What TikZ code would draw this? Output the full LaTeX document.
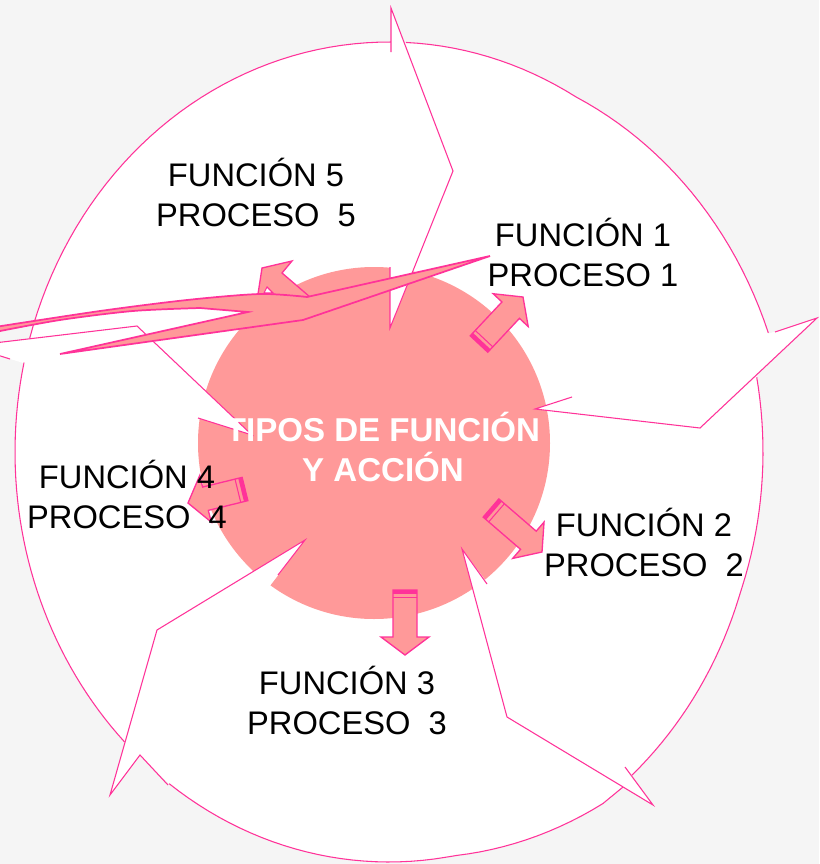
\documentclass[tikz,border=0pt]{standalone}
\usepackage{fontspec}
\setmainfont{Liberation Sans}
\usepackage{tikz}
\usetikzlibrary{calc}
\definecolor{rosado}{RGB}{255, 153, 153}
\definecolor{fucsia}{RGB}{255, 51, 153}
\definecolor{fondo}{RGB}{245, 245, 245}
\tikzset{
    anillo/.style={draw=fucsia, line width=0.8pt},
    punta/.style={fill=white, draw=none},
    borde/.style={draw=fucsia, line width=0.8pt, line join=miter},
    flecha/.style={fill=rosado, draw=fucsia, line width=1pt, line join=miter},
    espiga/.style={fill=rosado, draw=fucsia, line width=1.3pt, line join=miter},
    etiqueta/.style={align=center, text=black, inner sep=0pt, font=\fontsize{24.5}{30}\selectfont},
    titulo/.style={align=center, text=white, inner sep=0pt, font=\bfseries\fontsize{24.8}{30}\selectfont},
    tramo/.style={samples=40, variable=\t},
}
% flecha de bloque con rayas en la cola: #1 cola, #2 punta
\newcommand{\bloque}[2]{%
    \coordinate (cuello) at ($(#2)!13.5pt!(#1)$);
    \coordinate (raya) at ($(#1)!3pt!(#2)$);
    \coordinate (raya2) at ($(#1)!5.5pt!(#2)$);
    \filldraw[flecha] ($(#1)!9pt!90:(#2)$) -- ($(cuello)!9pt!-90:(#1)$) -- ($(cuello)!18pt!-90:(#1)$) -- (#2)
        -- ($(cuello)!18pt!90:(#1)$) -- ($(cuello)!9pt!90:(#1)$) -- ($(#1)!9pt!-90:(#2)$) -- cycle;
    \fill[fucsia] ($(#1)!9pt!90:(#2)$) -- ($(#1)!9pt!-90:(#2)$) -- ($(raya)!9pt!-90:(#2)$) -- ($(raya)!9pt!90:(#2)$) -- cycle;
    \draw[fucsia, line width=0.8pt] ($(raya2)!9pt!90:(#2)$) -- ($(raya2)!9pt!-90:(#2)$);
}

\begin{document}
\begin{tikzpicture}[x=0.75pt, y=-0.75pt]
    \useasboundingbox (0,0) rectangle (819,864);
    \clip (0,0) rectangle (819,864);
    \fill[fondo] (0,0) rectangle (819,864);

    % anillo blanco y disco central
    \fill[white] plot[tramo, domain=87.4:16] ({389+374*(1+0.00125*max(0,60-\t))*cos(\t)}, {452-410*(1+0.00125*max(0,60-\t))*sin(\t)})
        -- plot[tramo, domain=10.5:-50.5] ({389+374*(1+0.0007*max(0,-20-\t))*cos(\t)}, {452-410*(1+0.0007*max(0,-20-\t))*sin(\t)})
        -- (623,787)
        -- plot[tramo, domain=-56.3:-126] ({389+374*(1+0.0013*max(0,\t+80))*cos(\t)}, {452-410*(1+0.0013*max(0,\t+80))*sin(\t)})
        -- plot[tramo, domain=-135:-192.6] ({389+374*cos(\t)}, {452-410*sin(\t)})
        -- plot[tramo, domain=163.9:89.7] ({389+374*cos(\t)}, {452-410*sin(\t)}) -- cycle;
    \fill[rosado] (374,443) circle[radius=132pt];

    % puntas del ciclo
    \fill[punta] (391,8) -- (453,171) -- (390,328) -- cycle;
    \fill[punta] (817,318) -- (700,428) -- (535,409) -- cycle;
    \fill[punta] (462,549) -- (507,717) -- (653,805) -- cycle;
    \fill[punta] (305,540) -- (157,630) -- (110,795) -- cycle;
    \fill[punta] (252,435) -- (137,326) -- (-31,346) -- cycle;

    \draw[anillo] plot[tramo, domain=87.4:16] ({389+374*(1+0.00125*max(0,60-\t))*cos(\t)}, {452-410*(1+0.00125*max(0,60-\t))*sin(\t)});
    \draw[anillo] plot[tramo, domain=10.5:-50.5] ({389+374*(1+0.0007*max(0,-20-\t))*cos(\t)}, {452-410*(1+0.0007*max(0,-20-\t))*sin(\t)});
    \draw[anillo] (623,787) -- plot[tramo, domain=-56.3:-126] ({389+374*(1+0.0013*max(0,\t+80))*cos(\t)}, {452-410*(1+0.0013*max(0,\t+80))*sin(\t)});
    \draw[anillo] plot[tramo, domain=-135:-192.6] ({389+374*cos(\t)}, {452-410*sin(\t)});
    \draw[anillo] plot[tramo, domain=163.9:89.7] ({389+374*cos(\t)}, {452-410*sin(\t)});

    \draw[borde] (391,52) -- (391,8) -- (453,171) -- (390,328) -- (390,267);
    \draw[borde] (775,332) -- (817,318) -- (700,428) -- (535,409) -- (572,397);
    \draw[borde] (487,584) -- (462,549) -- (507,717) -- (653,805) -- (625,767);
    \draw[borde] (278,575) -- (305,540) -- (157,630) -- (110,795) -- (140,755) -- (168,785);
    \draw[borde] (198,418) -- (252,435) -- (137,326) -- (-31,346) -- (10,359);

    % flechas de bloque
    \coordinate (t1) at (479,344); \coordinate (h1) at (523,297);
    \coordinate (t2) at (491,508); \coordinate (h2) at (542,552);
    \coordinate (t3) at (405,590); \coordinate (h3) at (405,655);
    \coordinate (t4) at (245,489); \coordinate (h4) at (188,503);
    \bloque{t1}{h1}
    \bloque{t2}{h2}
    \bloque{t3}{h3}
    \bloque{t4}{h4}

    % flecha 5 deformada
    \filldraw[flecha] (258,294) -- (262,268) -- (292,261) -- (282,273) -- (310,297) -- cycle;
    \filldraw[fill=white, draw=fucsia, line width=0.8pt] (264,293) -- (267,287) -- (273,293) -- cycle;
    \filldraw[espiga] plot[smooth] coordinates {(-5,327) (100,311) (187,300) (260,294) (307,297)}
        -- (490,256) -- (303,320) -- (60,354) -- (248,312)
        -- plot[smooth] coordinates {(200,308) (133,311) (60,320) (-5,332)} -- cycle;

    % textos
    \node[etiqueta] (lbl5) at (256,192) {FUNCIÓN 5\\PROCESO\ \ 5};
    \node[etiqueta] (lbl1) at (583,252) {FUNCIÓN 1\\PROCESO 1};
    \node[etiqueta] (lbl2) at (644,542) {FUNCIÓN 2\\PROCESO\ \ 2};
    \node[etiqueta] (lbl3) at (347,700) {FUNCIÓN 3\\PROCESO\ \ 3};
    \node[etiqueta] (lbl4) at (127,494) {FUNCIÓN 4\\PROCESO\ \ 4};
    \node[titulo] (centro) at (383,447) {TIPOS DE FUNCIÓN\\Y ACCIÓN};
\end{tikzpicture}
\end{document}
